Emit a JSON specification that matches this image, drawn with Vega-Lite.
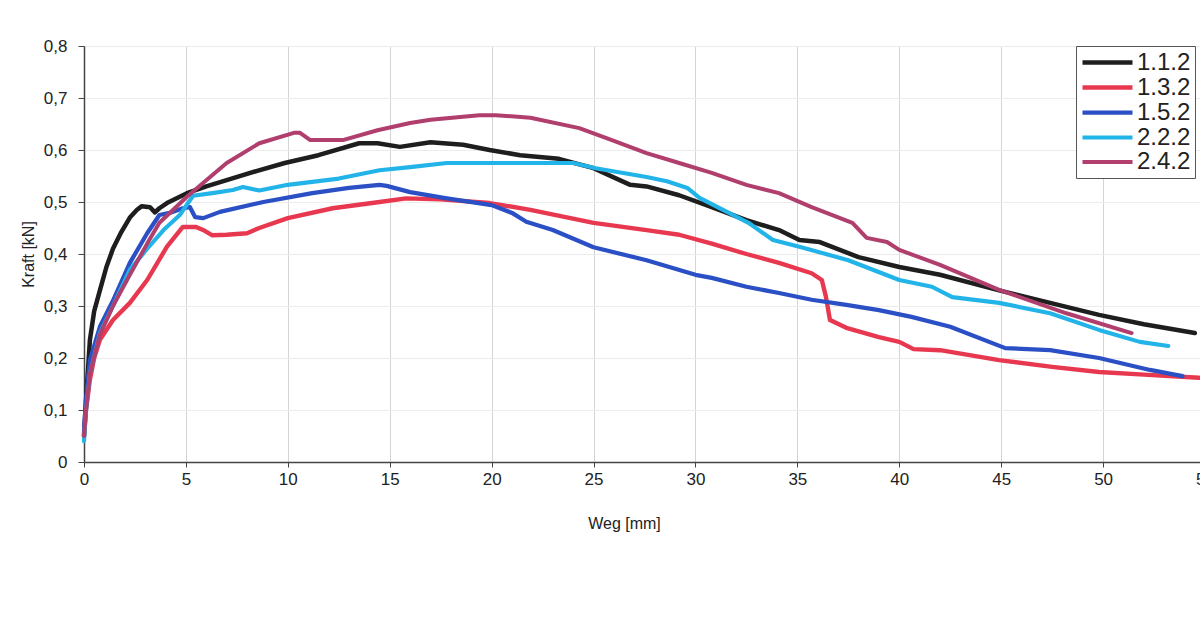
{
  "$schema": "https://vega.github.io/schema/vega-lite/v6.json",
  "autosize": {"type": "none"},
  "padding": {"left": 84, "top": 46, "right": 0, "bottom": 171},
  "width": 1121,
  "height": 416,
  "background": "white",
  "config": {"view": {"stroke": null}, "font": "Liberation Sans"},
  "datasets": {
    "curves": [
      {"probe":"1.1.2","weg":0,"kraft":0.05},{"probe":"1.1.2","weg":0.1,"kraft":0.12},{"probe":"1.1.2","weg":0.29,"kraft":0.235},{"probe":"1.1.2","weg":0.5,"kraft":0.29},{"probe":"1.1.2","weg":0.78,"kraft":0.33},{"probe":"1.1.2","weg":1.1,"kraft":0.375},{"probe":"1.1.2","weg":1.42,"kraft":0.41},{"probe":"1.1.2","weg":1.8,"kraft":0.44},{"probe":"1.1.2","weg":2.25,"kraft":0.47},{"probe":"1.1.2","weg":2.6,"kraft":0.485},{"probe":"1.1.2","weg":2.84,"kraft":0.492},{"probe":"1.1.2","weg":3.24,"kraft":0.49},{"probe":"1.1.2","weg":3.48,"kraft":0.48},{"probe":"1.1.2","weg":3.7,"kraft":0.488},{"probe":"1.1.2","weg":4.07,"kraft":0.498},{"probe":"1.1.2","weg":5.05,"kraft":0.517},{"probe":"1.1.2","weg":6,"kraft":0.53},{"probe":"1.1.2","weg":7,"kraft":0.542},{"probe":"1.1.2","weg":8.5,"kraft":0.56},{"probe":"1.1.2","weg":9.85,"kraft":0.575},{"probe":"1.1.2","weg":11.5,"kraft":0.59},{"probe":"1.1.2","weg":13.5,"kraft":0.613},{"probe":"1.1.2","weg":14.4,"kraft":0.613},{"probe":"1.1.2","weg":15.5,"kraft":0.606},{"probe":"1.1.2","weg":17,"kraft":0.615},{"probe":"1.1.2","weg":18.6,"kraft":0.61},{"probe":"1.1.2","weg":19.9,"kraft":0.6},{"probe":"1.1.2","weg":21.4,"kraft":0.59},{"probe":"1.1.2","weg":23.3,"kraft":0.583},{"probe":"1.1.2","weg":25,"kraft":0.565},{"probe":"1.1.2","weg":26.8,"kraft":0.533},{"probe":"1.1.2","weg":27.6,"kraft":0.53},{"probe":"1.1.2","weg":29.2,"kraft":0.513},{"probe":"1.1.2","weg":30.8,"kraft":0.49},{"probe":"1.1.2","weg":32.5,"kraft":0.465},{"probe":"1.1.2","weg":34.1,"kraft":0.446},{"probe":"1.1.2","weg":35.1,"kraft":0.427},{"probe":"1.1.2","weg":36.1,"kraft":0.423},{"probe":"1.1.2","weg":38,"kraft":0.394},{"probe":"1.1.2","weg":40,"kraft":0.375},{"probe":"1.1.2","weg":42,"kraft":0.36},{"probe":"1.1.2","weg":44.9,"kraft":0.33},{"probe":"1.1.2","weg":47.5,"kraft":0.305},{"probe":"1.1.2","weg":49.8,"kraft":0.283},{"probe":"1.1.2","weg":52,"kraft":0.265},{"probe":"1.1.2","weg":54.5,"kraft":0.248},
      {"probe":"1.3.2","weg":0,"kraft":0.05},{"probe":"1.3.2","weg":0.1,"kraft":0.1},{"probe":"1.3.2","weg":0.29,"kraft":0.158},{"probe":"1.3.2","weg":0.5,"kraft":0.2},{"probe":"1.3.2","weg":0.78,"kraft":0.235},{"probe":"1.3.2","weg":1.42,"kraft":0.273},{"probe":"1.3.2","weg":2.25,"kraft":0.306},{"probe":"1.3.2","weg":3.1,"kraft":0.35},{"probe":"1.3.2","weg":4.07,"kraft":0.414},{"probe":"1.3.2","weg":4.85,"kraft":0.452},{"probe":"1.3.2","weg":5.5,"kraft":0.452},{"probe":"1.3.2","weg":5.9,"kraft":0.445},{"probe":"1.3.2","weg":6.3,"kraft":0.436},{"probe":"1.3.2","weg":7,"kraft":0.437},{"probe":"1.3.2","weg":8,"kraft":0.44},{"probe":"1.3.2","weg":8.6,"kraft":0.45},{"probe":"1.3.2","weg":10,"kraft":0.469},{"probe":"1.3.2","weg":12.2,"kraft":0.488},{"probe":"1.3.2","weg":14.5,"kraft":0.5},{"probe":"1.3.2","weg":15.8,"kraft":0.507},{"probe":"1.3.2","weg":17.5,"kraft":0.505},{"probe":"1.3.2","weg":19.9,"kraft":0.498},{"probe":"1.3.2","weg":21.9,"kraft":0.485},{"probe":"1.3.2","weg":25,"kraft":0.46},{"probe":"1.3.2","weg":27.6,"kraft":0.446},{"probe":"1.3.2","weg":29.2,"kraft":0.437},{"probe":"1.3.2","weg":30.8,"kraft":0.42},{"probe":"1.3.2","weg":32.5,"kraft":0.4},{"probe":"1.3.2","weg":34.1,"kraft":0.383},{"probe":"1.3.2","weg":35.7,"kraft":0.363},{"probe":"1.3.2","weg":36.2,"kraft":0.35},{"probe":"1.3.2","weg":36.4,"kraft":0.318},{"probe":"1.3.2","weg":36.6,"kraft":0.273},{"probe":"1.3.2","weg":37.4,"kraft":0.258},{"probe":"1.3.2","weg":39,"kraft":0.24},{"probe":"1.3.2","weg":40,"kraft":0.231},{"probe":"1.3.2","weg":40.7,"kraft":0.217},{"probe":"1.3.2","weg":42,"kraft":0.215},{"probe":"1.3.2","weg":44.9,"kraft":0.196},{"probe":"1.3.2","weg":47.5,"kraft":0.183},{"probe":"1.3.2","weg":49.8,"kraft":0.173},{"probe":"1.3.2","weg":52,"kraft":0.168},{"probe":"1.3.2","weg":54.7,"kraft":0.162},
      {"probe":"1.5.2","weg":0,"kraft":0.06},{"probe":"1.5.2","weg":0.1,"kraft":0.12},{"probe":"1.5.2","weg":0.29,"kraft":0.196},{"probe":"1.5.2","weg":0.78,"kraft":0.26},{"probe":"1.5.2","weg":1.42,"kraft":0.31},{"probe":"1.5.2","weg":2.25,"kraft":0.383},{"probe":"1.5.2","weg":3.1,"kraft":0.44},{"probe":"1.5.2","weg":3.7,"kraft":0.475},{"probe":"1.5.2","weg":4.2,"kraft":0.479},{"probe":"1.5.2","weg":4.85,"kraft":0.488},{"probe":"1.5.2","weg":5.2,"kraft":0.49},{"probe":"1.5.2","weg":5.45,"kraft":0.471},{"probe":"1.5.2","weg":5.85,"kraft":0.469},{"probe":"1.5.2","weg":6.67,"kraft":0.481},{"probe":"1.5.2","weg":8.8,"kraft":0.5},{"probe":"1.5.2","weg":11.2,"kraft":0.517},{"probe":"1.5.2","weg":13,"kraft":0.527},{"probe":"1.5.2","weg":14.5,"kraft":0.533},{"probe":"1.5.2","weg":14.85,"kraft":0.531},{"probe":"1.5.2","weg":16,"kraft":0.519},{"probe":"1.5.2","weg":17.8,"kraft":0.507},{"probe":"1.5.2","weg":20,"kraft":0.494},{"probe":"1.5.2","weg":21,"kraft":0.479},{"probe":"1.5.2","weg":21.7,"kraft":0.462},{"probe":"1.5.2","weg":23,"kraft":0.446},{"probe":"1.5.2","weg":25,"kraft":0.413},{"probe":"1.5.2","weg":27.6,"kraft":0.388},{"probe":"1.5.2","weg":30,"kraft":0.36},{"probe":"1.5.2","weg":30.8,"kraft":0.354},{"probe":"1.5.2","weg":32.5,"kraft":0.337},{"probe":"1.5.2","weg":34.1,"kraft":0.325},{"probe":"1.5.2","weg":35.7,"kraft":0.312},{"probe":"1.5.2","weg":37.4,"kraft":0.302},{"probe":"1.5.2","weg":39,"kraft":0.292},{"probe":"1.5.2","weg":40.6,"kraft":0.279},{"probe":"1.5.2","weg":42.5,"kraft":0.26},{"probe":"1.5.2","weg":45.2,"kraft":0.219},{"probe":"1.5.2","weg":47.4,"kraft":0.215},{"probe":"1.5.2","weg":49.8,"kraft":0.2},{"probe":"1.5.2","weg":52.3,"kraft":0.177},{"probe":"1.5.2","weg":53.9,"kraft":0.165},
      {"probe":"2.2.2","weg":0,"kraft":0.04},{"probe":"2.2.2","weg":0.1,"kraft":0.1},{"probe":"2.2.2","weg":0.29,"kraft":0.17},{"probe":"2.2.2","weg":0.78,"kraft":0.248},{"probe":"2.2.2","weg":1.42,"kraft":0.3},{"probe":"2.2.2","weg":2.25,"kraft":0.37},{"probe":"2.2.2","weg":3.1,"kraft":0.41},{"probe":"2.2.2","weg":3.9,"kraft":0.446},{"probe":"2.2.2","weg":4.7,"kraft":0.475},{"probe":"2.2.2","weg":5.35,"kraft":0.512},{"probe":"2.2.2","weg":6.3,"kraft":0.517},{"probe":"2.2.2","weg":7.3,"kraft":0.523},{"probe":"2.2.2","weg":7.8,"kraft":0.529},{"probe":"2.2.2","weg":8.6,"kraft":0.522},{"probe":"2.2.2","weg":10,"kraft":0.533},{"probe":"2.2.2","weg":12.5,"kraft":0.545},{"probe":"2.2.2","weg":14.5,"kraft":0.561},{"probe":"2.2.2","weg":16,"kraft":0.567},{"probe":"2.2.2","weg":17.8,"kraft":0.575},{"probe":"2.2.2","weg":21,"kraft":0.575},{"probe":"2.2.2","weg":24,"kraft":0.575},{"probe":"2.2.2","weg":25.1,"kraft":0.565},{"probe":"2.2.2","weg":27.6,"kraft":0.548},{"probe":"2.2.2","weg":28.6,"kraft":0.54},{"probe":"2.2.2","weg":29.6,"kraft":0.527},{"probe":"2.2.2","weg":30.2,"kraft":0.508},{"probe":"2.2.2","weg":32.6,"kraft":0.46},{"probe":"2.2.2","weg":33.8,"kraft":0.427},{"probe":"2.2.2","weg":35.1,"kraft":0.414},{"probe":"2.2.2","weg":37.5,"kraft":0.388},{"probe":"2.2.2","weg":40,"kraft":0.35},{"probe":"2.2.2","weg":41.6,"kraft":0.337},{"probe":"2.2.2","weg":42.6,"kraft":0.317},{"probe":"2.2.2","weg":44.9,"kraft":0.306},{"probe":"2.2.2","weg":47.4,"kraft":0.286},{"probe":"2.2.2","weg":49.8,"kraft":0.254},{"probe":"2.2.2","weg":51.8,"kraft":0.231},{"probe":"2.2.2","weg":53.2,"kraft":0.223},
      {"probe":"2.4.2","weg":0,"kraft":0.05},{"probe":"2.4.2","weg":0.1,"kraft":0.1},{"probe":"2.4.2","weg":0.29,"kraft":0.17},{"probe":"2.4.2","weg":0.78,"kraft":0.245},{"probe":"2.4.2","weg":1.42,"kraft":0.3},{"probe":"2.4.2","weg":2.25,"kraft":0.36},{"probe":"2.4.2","weg":3.1,"kraft":0.42},{"probe":"2.4.2","weg":3.7,"kraft":0.46},{"probe":"2.4.2","weg":5.05,"kraft":0.51},{"probe":"2.4.2","weg":6,"kraft":0.542},{"probe":"2.4.2","weg":7,"kraft":0.575},{"probe":"2.4.2","weg":8.6,"kraft":0.613},{"probe":"2.4.2","weg":10.3,"kraft":0.633},{"probe":"2.4.2","weg":10.6,"kraft":0.633},{"probe":"2.4.2","weg":11.1,"kraft":0.619},{"probe":"2.4.2","weg":12.7,"kraft":0.619},{"probe":"2.4.2","weg":14.4,"kraft":0.638},{"probe":"2.4.2","weg":16,"kraft":0.652},{"probe":"2.4.2","weg":17,"kraft":0.658},{"probe":"2.4.2","weg":19.4,"kraft":0.667},{"probe":"2.4.2","weg":20.2,"kraft":0.667},{"probe":"2.4.2","weg":21.9,"kraft":0.662},{"probe":"2.4.2","weg":24.3,"kraft":0.642},{"probe":"2.4.2","weg":25.9,"kraft":0.619},{"probe":"2.4.2","weg":27.6,"kraft":0.594},{"probe":"2.4.2","weg":29.2,"kraft":0.575},{"probe":"2.4.2","weg":30.8,"kraft":0.556},{"probe":"2.4.2","weg":32.5,"kraft":0.533},{"probe":"2.4.2","weg":34.1,"kraft":0.517},{"probe":"2.4.2","weg":35.7,"kraft":0.49},{"probe":"2.4.2","weg":37.7,"kraft":0.46},{"probe":"2.4.2","weg":38.4,"kraft":0.431},{"probe":"2.4.2","weg":39.4,"kraft":0.423},{"probe":"2.4.2","weg":40,"kraft":0.408},{"probe":"2.4.2","weg":42,"kraft":0.379},{"probe":"2.4.2","weg":44.9,"kraft":0.331},{"probe":"2.4.2","weg":48.2,"kraft":0.286},{"probe":"2.4.2","weg":51.4,"kraft":0.248}
    ]
  },
  "data": {"name": "curves"},
  "mark": {"type": "line", "strokeJoin": "round", "strokeCap": "round"},
  "encoding": {
    "x": {
      "field": "weg", "type": "quantitative",
      "scale": {"domain": [0, 55], "nice": false, "zero": true},
      "axis": {
        "values": [0, 5, 10, 15, 20, 25, 30, 35, 40, 45, 50, 55],
        "title": "Weg [mm]", "titleX": 540, "titleY": 66, "titleFontSize": 16, "titleFontWeight": "normal", "titleColor": "#222", "titleBaseline": "alphabetic",
        "labelFontSize": 17, "labelColor": "#222", "labelPadding": 4, "labelFlush": false,
        "tickSize": 5, "tickColor": "#444", "domainColor": "#444", "domainWidth": 1.5,
        "grid": true, "gridColor": "#d4d4d4", "gridWidth": 1
      }
    },
    "y": {
      "field": "kraft", "type": "quantitative",
      "scale": {"domain": [0, 0.8], "nice": false},
      "axis": {
        "values": [0, 0.1, 0.2, 0.3, 0.4, 0.5, 0.6, 0.7, 0.8],
        "labelExpr": "datum.value == 0 ? '0' : replace(format(datum.value, '.1f'), '.', ',')",
        "title": "Kraft [kN]", "titleFontSize": 16, "titleFontWeight": "normal", "titleColor": "#222", "titlePadding": 7,
        "labelFontSize": 17, "labelColor": "#222", "labelPadding": 11, "labelFlush": false,
        "tickSize": 6, "tickColor": "#444", "domainColor": "#444", "domainWidth": 1.5,
        "grid": true, "gridColor": "#ececec", "gridWidth": 1
      }
    },
    "color": {
      "field": "probe", "type": "nominal",
      "scale": {"domain": ["1.1.2", "1.3.2", "1.5.2", "2.2.2", "2.4.2"], "range": ["#1e1e1e", "#e8384f", "#2b4fc4", "#22b4e8", "#b03f6e"]},
      "legend": {
        "orient": "none", "legendX": 992, "legendY": 0, "title": null,
        "labelFontSize": 24, "labelColor": "#222", "labelOffset": 32, "labelLimit": 200,
        "symbolType": "M-1,0H4", "symbolSize": 400,
        "strokeColor": "#555", "fillColor": "white", "padding": 4, "rowPadding": -1
      }
    },
    "strokeWidth": {
      "field": "probe", "type": "nominal",
      "scale": {"domain": ["1.1.2", "1.3.2", "1.5.2", "2.2.2", "2.4.2"], "range": [4.5, 4, 4, 2, 1.5]}
    }
  }
}
